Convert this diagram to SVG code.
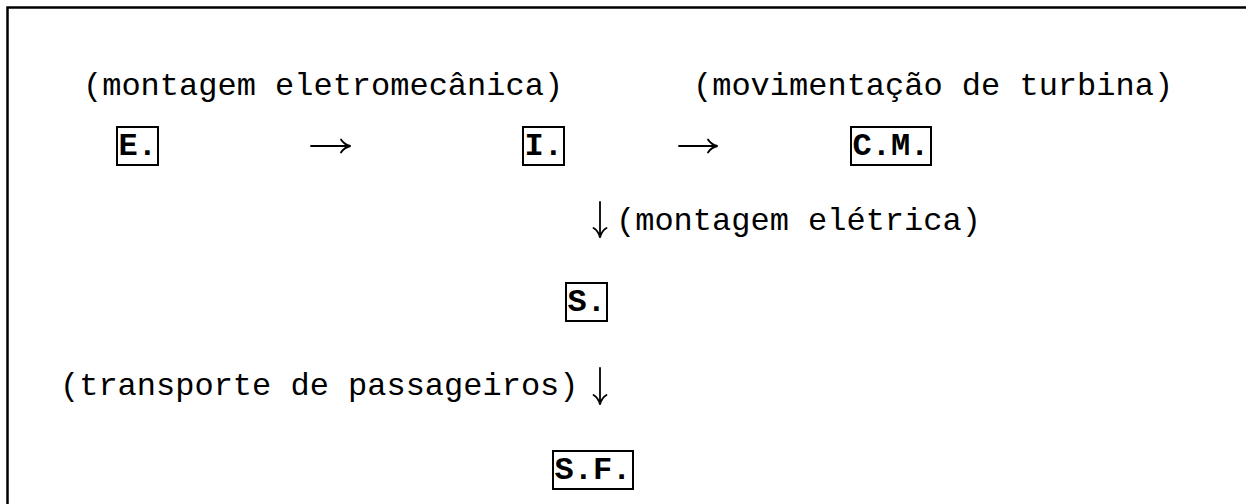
<svg xmlns="http://www.w3.org/2000/svg" width="1246" height="504" viewBox="0 0 1246 504">
<style>
.lbl{font-family:"Liberation Mono","Courier New",monospace;font-size:32px;fill:#000}
.nt{font-family:"Liberation Mono","Courier New",monospace;font-size:32px;font-weight:bold;fill:#000}
.box{fill:#fff;stroke:#000;stroke-width:2}
.arr{fill:none;stroke:#000;stroke-width:1.8;stroke-linecap:round}
</style>
<rect x="0" y="0" width="1246" height="504" fill="#fff"/>
<path d="M7.5 520 V7.5 H1260" fill="none" stroke="#000" stroke-width="2.5"/>
<g id="labels">
<text class="lbl" x="83" y="95">(montagem eletromecânica)</text>
<text class="lbl" x="693" y="95">(movimentação de turbina)</text>
<text class="lbl" x="616" y="230">(montagem elétrica)</text>
<text class="lbl" x="60" y="395">(transporte de passageiros)</text>
</g>
<g id="node-E">
<rect class="box" x="117" y="127" width="41" height="38"/>
<text class="nt" x="118.5" y="154.5">E.</text>
</g>
<g id="node-I">
<rect class="box" x="523" y="127" width="41" height="38"/>
<text class="nt" x="524.5" y="154.5">I.</text>
</g>
<g id="node-CM">
<rect class="box" x="851" y="127" width="80" height="38"/>
<text class="nt" x="852.5" y="154.5">C.M.</text>
</g>
<g id="node-S">
<rect class="box" x="566" y="283" width="41" height="38"/>
<text class="nt" x="567.5" y="310.5">S.</text>
</g>
<g id="node-SF">
<rect class="box" x="553" y="451" width="80" height="38"/>
<text class="nt" x="554.5" y="478.5">S.F.</text>
</g>
<g id="connectors">
<path class="arr" d="M311 146 H350 M341 139.5 Q344 144.5 350.5 146 Q344 147.5 341 152.5"/>
<path class="arr" d="M679 146 H717 M708 139.5 Q711 144.5 717.5 146 Q711 147.5 708 152.5"/>
<path class="arr" d="M600 202 V237 M593.5 228 Q598.5 231 600 237.5 Q601.5 231 606.5 228"/>
<path class="arr" d="M600 368 V404 M593.5 395 Q598.5 398 600 404.5 Q601.5 398 606.5 395"/>
</g>
</svg>
